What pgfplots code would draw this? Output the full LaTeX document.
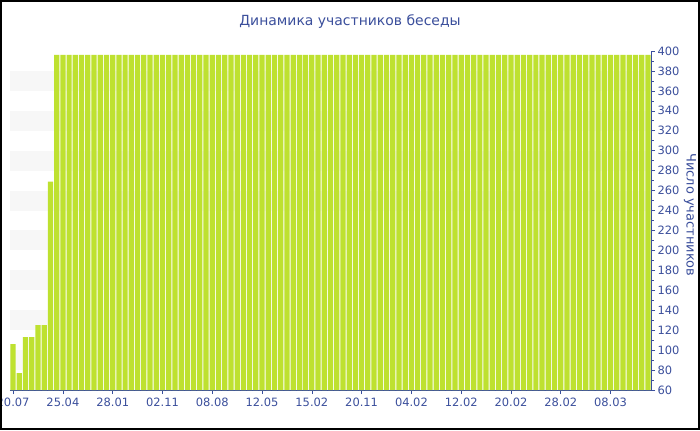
\documentclass[border=0pt]{standalone}
\usepackage{fontspec}
\setmainfont{DejaVu Sans}
\usepackage{pgfplots}
\pgfplotsset{compat=1.18}
\definecolor{txt}{RGB}{59,79,156}
\definecolor{barc}{RGB}{190,225,48}
\definecolor{band}{RGB}{247,247,247}
\begin{document}
\begin{tikzpicture}[x=1bp,y=1bp]
\useasboundingbox (0,0) rectangle (700,430);
\fill[white] (0,0) rectangle (700,430);
\begin{axis}[at={(10bp,40bp)}, anchor=south west, scale only axis,
  width=641bp, height=339bp,
  xmin=-0.5, xmax=102.5, ymin=60, ymax=400,
  axis x line*=bottom, axis y line*=right,
  axis line style={draw=txt, line width=0.8pt},
  every tick/.style={draw=txt, line width=0.6pt},
  tick align=outside, major tick length=4bp, minor tick length=2.5bp,
  xtick={0,8,...,96},
  xticklabels={20.07,25.04,28.01,02.11,08.08,12.05,15.02,20.11,04.02,12.02,20.02,28.02,08.03},
  ytick={60,80,...,400}, minor y tick num=1,
  tick label style={font=\fontsize{11.5}{13}\selectfont, text=txt},
  /pgf/number format/assume math mode=true,
  yticklabel style={xshift=-1bp},
  ybar, bar width=0.84, bar shift=0pt,
  clip=false,
]
\fill[band] (axis cs:-0.5,80) rectangle (axis cs:102.5,100);
\fill[band] (axis cs:-0.5,120) rectangle (axis cs:102.5,140);
\fill[band] (axis cs:-0.5,160) rectangle (axis cs:102.5,180);
\fill[band] (axis cs:-0.5,200) rectangle (axis cs:102.5,220);
\fill[band] (axis cs:-0.5,240) rectangle (axis cs:102.5,260);
\fill[band] (axis cs:-0.5,280) rectangle (axis cs:102.5,300);
\fill[band] (axis cs:-0.5,320) rectangle (axis cs:102.5,340);
\fill[band] (axis cs:-0.5,360) rectangle (axis cs:102.5,380);
\addplot[fill=barc, draw=none] table[x=i, y=v] {
i v
0 106
1 77
2 113
3 113
4 125
5 125
6 269
7 396
8 396
9 396
10 396
11 396
12 396
13 396
14 396
15 396
16 396
17 396
18 396
19 396
20 396
21 396
22 396
23 396
24 396
25 396
26 396
27 396
28 396
29 396
30 396
31 396
32 396
33 396
34 396
35 396
36 396
37 396
38 396
39 396
40 396
41 396
42 396
43 396
44 396
45 396
46 396
47 396
48 396
49 396
50 396
51 396
52 396
53 396
54 396
55 396
56 396
57 396
58 396
59 396
60 396
61 396
62 396
63 396
64 396
65 396
66 396
67 396
68 396
69 396
70 396
71 396
72 396
73 396
74 396
75 396
76 396
77 396
78 396
79 396
80 396
81 396
82 396
83 396
84 396
85 396
86 396
87 396
88 396
89 396
90 396
91 396
92 396
93 396
94 396
95 396
96 396
97 396
98 396
99 396
100 396
101 396
102 396
};
\end{axis}
\node[text=txt, font=\fontsize{14}{16}\selectfont] at (350,408) {Динамика участников беседы};
\node[text=txt, font=\fontsize{13}{15}\selectfont, rotate=-90] at (690,215) {Число участников};
\draw[black, line width=2bp] (1,1) rectangle (699,429);
\end{tikzpicture}
\end{document}
